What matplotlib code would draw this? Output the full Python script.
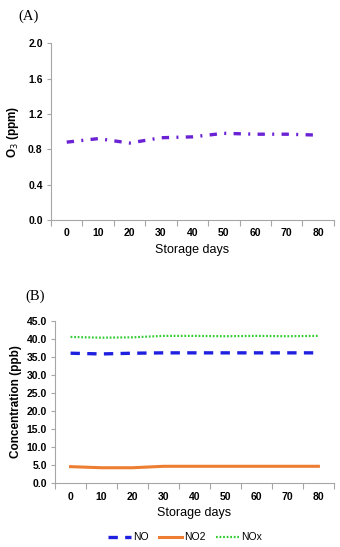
import numpy as np
import matplotlib as mpl
mpl.use("Agg")
import matplotlib.pyplot as plt

days = [0, 10, 20, 30, 40, 50, 60, 70, 80]
o3 = [0.88, 0.92, 0.87, 0.93, 0.94, 0.98, 0.97, 0.97, 0.96]
no = [36.0, 35.8, 36.0, 36.1, 36.1, 36.1, 36.1, 36.1, 36.1]
no2 = [4.6, 4.3, 4.3, 4.7, 4.7, 4.7, 4.7, 4.7, 4.7]
nox = [40.5, 40.3, 40.4, 40.8, 40.8, 40.7, 40.8, 40.7, 40.8]

o3_ticks = [0.0, 0.4, 0.8, 1.2, 1.6, 2.0]
conc_ticks = [0, 5, 10, 15, 20, 25, 30, 35, 40, 45]

plt.rcParams["font.family"] = ["Liberation Sans", "DejaVu Sans"]
AXIS_GRAY = "#a6a6a6"


def style_axes(ax):
    x = np.arange(len(days))
    ax.set_xlim(-0.5, len(days) - 0.5)
    ax.set_xticks(x)
    ax.set_xticklabels([str(d) for d in days], fontsize=7.5, fontweight="bold")
    ax.set_xticks(np.arange(-0.5, len(days)), minor=True)
    ax.tick_params(axis="x", which="major", length=0, pad=6)
    ax.tick_params(axis="x", which="minor", length=4, color=AXIS_GRAY, width=0.8)
    ax.tick_params(axis="y", length=3, color=AXIS_GRAY, width=0.8, labelsize=7.5, pad=3)
    for lab in ax.get_yticklabels():
        lab.set_fontweight("bold")
    for side in ("top", "right"):
        ax.spines[side].set_visible(False)
    for side in ("left", "bottom"):
        ax.spines[side].set_color(AXIS_GRAY)
        ax.spines[side].set_linewidth(0.8)
    ax.set_xlabel("Storage days", fontsize=9, labelpad=4)


fig = plt.figure(figsize=(3.4, 5.47), dpi=100)

# (A) ozone
ax1 = fig.add_axes([0.15, 0.598, 0.832, 0.323])
x = np.arange(len(days))
ax1.plot(x, o3, color="#6a22d4", lw=2.4, dashes=(2.2, 2.2, 0.6, 2.2))
ax1.set_ylim(0, 2.0)
ax1.set_yticks(o3_ticks)
ax1.set_yticklabels([f"{v:.1f}" for v in o3_ticks])
style_axes(ax1)
ax1.set_ylabel("O$_3$ (ppm)", fontsize=8.5, fontweight="bold", labelpad=5)
fig.text(0.055, 0.963, "(A)", fontsize=10.5, family=["Liberation Serif", "DejaVu Serif"])

# (B) nitrogen oxides
ax2 = fig.add_axes([0.162, 0.1165, 0.82, 0.2972])
ax2.plot(x, no, color="#1f1fe0", lw=2.4, dashes=(2.8, 2.2), label="NO")
ax2.plot(x, no2, color="#ed7d31", lw=2.2, label="NO2")
ax2.plot(x, nox, color="#33cc33", lw=1.6, dashes=(0.8, 0.8), label="NOx")
ax2.set_ylim(0, 45)
ax2.set_yticks(conc_ticks)
ax2.set_yticklabels([f"{v:.1f}" for v in conc_ticks])
style_axes(ax2)
ax2.set_ylabel("Concentration (ppb)", fontsize=8.5, fontweight="bold", labelpad=3)
fig.text(0.075, 0.452, "(B)", fontsize=10.5, family=["Liberation Serif", "DejaVu Serif"])

leg = fig.legend(loc="center", bbox_to_anchor=(0.545, 0.018), ncol=3, frameon=False,
                 fontsize=7.5, handlelength=2.2, handletextpad=0.2, columnspacing=1.0)

fig.savefig("out.png", dpi=100)
